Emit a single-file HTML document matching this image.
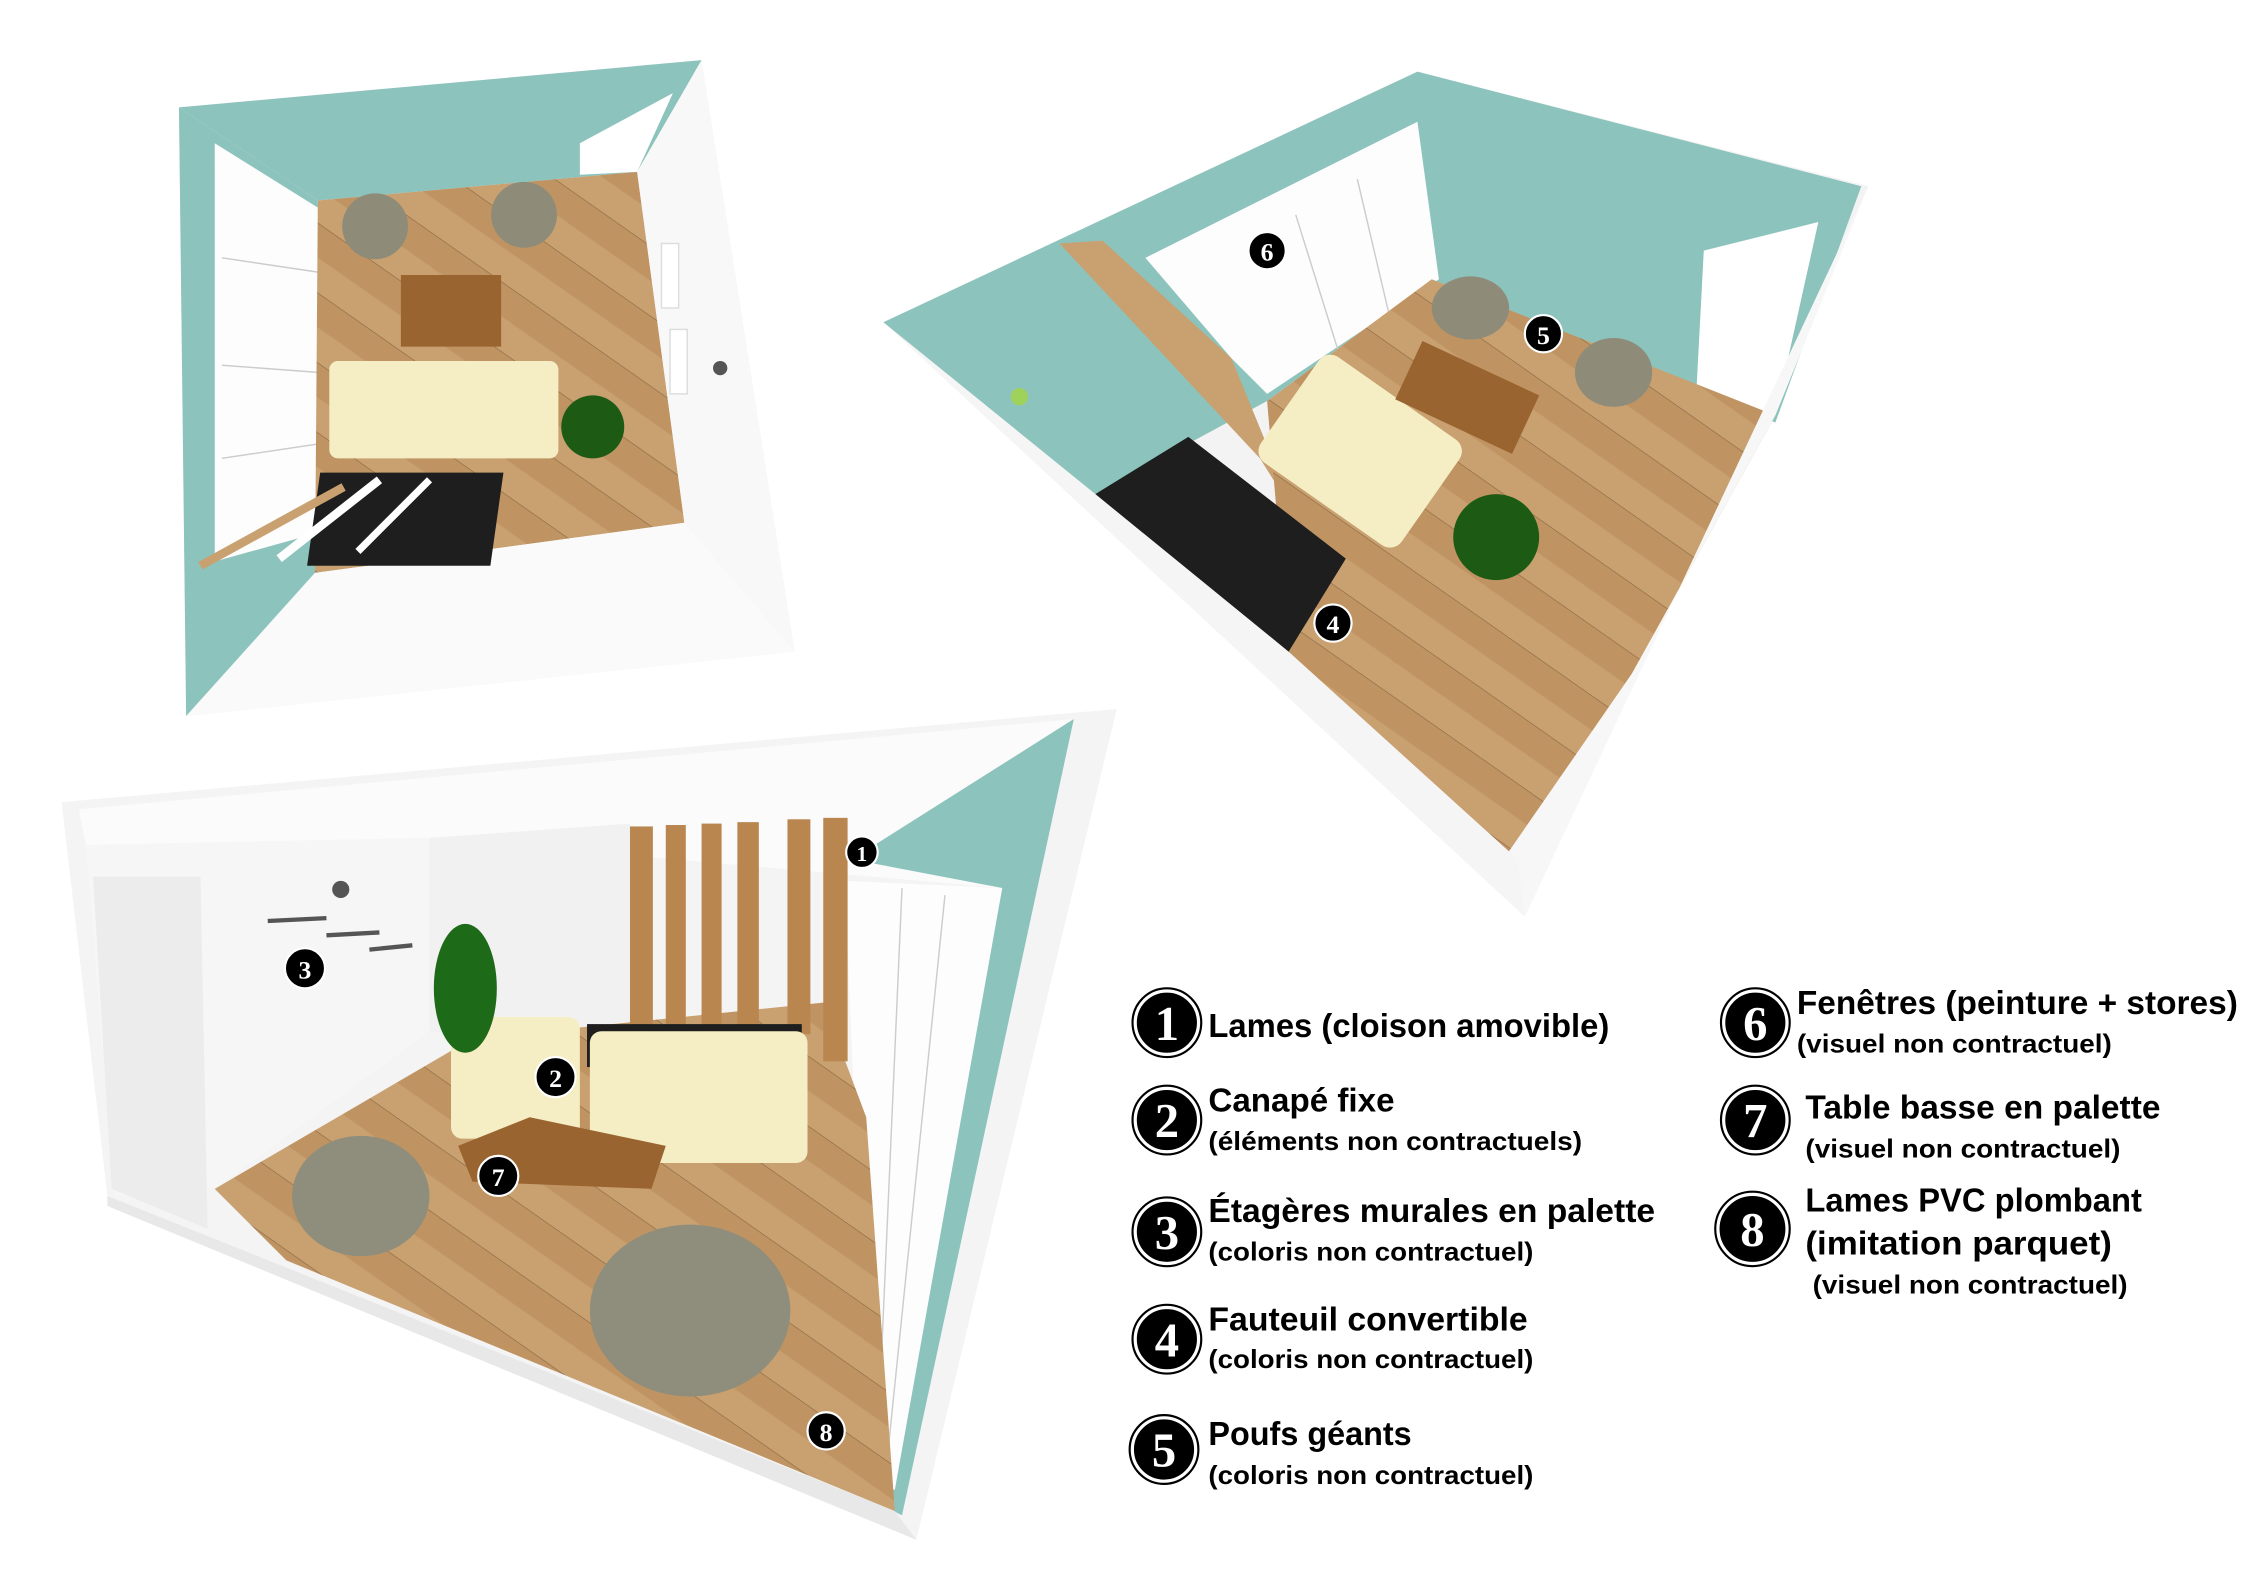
<!DOCTYPE html>
<html><head><meta charset="utf-8"><style>
html,body{margin:0;padding:0;background:#fff;}
svg{display:block;}
.t{font-family:"Liberation Sans Narrow","Liberation Sans",sans-serif;font-weight:bold;fill:#000;}
.n{font-family:"Liberation Serif",serif;font-weight:bold;fill:#fff;text-anchor:middle;}
</style></head><body>
<svg width="2245" height="1587" viewBox="0 0 1568 1108" preserveAspectRatio="none" xmlns="http://www.w3.org/2000/svg">
<defs>
<pattern id="wood" width="40" height="40" patternUnits="userSpaceOnUse" patternTransform="rotate(35)">
<rect width="40" height="40" fill="#c9a070"/><rect width="40" height="20" fill="#bf9462"/><line x1="0" y1="0" x2="40" y2="0" stroke="#8a6a45" stroke-width="0.8"/>
</pattern>
</defs>
<rect width="1568" height="1108" fill="#fff"/>

<!-- Top-left room -->
<polygon points="125,75 490,42 555,455 130,500" fill="#f2f2f2"/>
<polygon points="125,75 490,42 445,120 222,140" fill="#8dc3bd"/>
<polygon points="125,75 222,140 220,400 130,500" fill="#8dc3bd"/>
<polygon points="150,100 222,145 222,372 150,392" fill="#fdfdfd"/>
<line x1="155" y1="180" x2="222" y2="190" stroke="#ccc"/><line x1="155" y1="255" x2="222" y2="260" stroke="#ccc"/><line x1="155" y1="320" x2="222" y2="310" stroke="#ccc"/>
<polygon points="222,140 445,120 478,365 220,400" fill="url(#wood)"/>
<polygon points="445,120 490,42 555,455 478,365" fill="#f8f8f8"/>
<polygon points="220,400 478,365 555,455 130,500" fill="#fafafa"/>
<polygon points="405,100 470,65 445,120 405,122" fill="#fff"/>
<rect x="222" y="330" width="128" height="65" fill="#1e1e1e" transform="skewX(-8) translate(48,0)"/>
<line x1="140" y1="395" x2="240" y2="340" stroke="#c9a070" stroke-width="6"/>
<line x1="195" y1="390" x2="265" y2="335" stroke="#fff" stroke-width="6"/>
<line x1="250" y1="385" x2="300" y2="335" stroke="#fff" stroke-width="5"/>
<rect x="230" y="252" width="160" height="68" rx="6" fill="#f5eec4"/>
<rect x="280" y="192" width="70" height="50" fill="#9a6430"/>
<circle cx="262" cy="158" r="23" fill="#8e8b78"/><circle cx="366" cy="150" r="23" fill="#8e8b78"/>
<circle cx="414" cy="298" r="22" fill="#1d5a14"/>
<rect x="462" y="170" width="12" height="45" fill="#fff" stroke="#ddd"/><rect x="468" y="230" width="12" height="45" fill="#fff" stroke="#ddd"/>
<circle cx="503" cy="257" r="5" fill="#555"/>

<!-- Top-right room -->
<polygon points="617,225 990,50 1305,130 1065,640" fill="#f3f3f3"/>
<polygon points="617,225 990,50 1300,130 1240,295 1000,195 885,280 765,345" fill="#8dc3bd"/>
<polygon points="800,180 990,85 1005,195 885,275 860,250" fill="#fdfdfd"/>
<line x1="905" y1="150" x2="940" y2="262" stroke="#ccc"/><line x1="948" y1="125" x2="975" y2="240" stroke="#ccc"/>
<polygon points="740,170 770,168 860,250 905,360 880,320" fill="#c9a070"/>
<polygon points="1190,175 1270,155 1240,290 1185,270" fill="#fff"/>
<polygon points="885,280 1000,195 1240,290 1140,470 1060,600 900,455" fill="url(#wood)"/>
<polygon points="765,345 830,305 940,390 900,455" fill="#1e1e1e"/>
<polygon points="1240,290 1305,130 1065,640 1050,600 1140,470" fill="#f7f7f7"/>
<polygon points="617,225 765,345 900,455 1060,600 1065,640" fill="#f5f5f5"/>
<rect x="890" y="270" width="120" height="90" rx="10" fill="#f5eec4" transform="rotate(35 950 315)"/>
<rect x="980" y="255" width="90" height="45" fill="#9a6430" transform="rotate(25 1025 277)"/>
<ellipse cx="1027" cy="215" rx="27" ry="22" fill="#8e8b78"/><ellipse cx="1127" cy="260" rx="27" ry="24" fill="#8e8b78"/>
<circle cx="1045" cy="375" r="30" fill="#1d5a14"/>
<circle cx="712" cy="277" r="6" fill="#9fd25a"/>

<!-- Bottom-left room -->
<polygon points="43,560 780,495 640,1075 75,835" fill="#f4f4f4"/>
<polygon points="55,565 750,502 700,620 300,585 60,590" fill="#fbfbfb"/>
<polygon points="60,590 300,585 300,720 150,830 80,835" fill="#f6f6f6"/>
<polygon points="300,585 440,575 440,730 300,720" fill="#f1f1f1"/>
<polygon points="595,600 750,502 630,1058 615,1050 700,620" fill="#8dc3bd"/>
<polygon points="590,615 700,620 625,1040 608,1040" fill="#fdfdfd"/>
<line x1="630" y1="620" x2="612" y2="1030" stroke="#ccc"/><line x1="660" y1="625" x2="618" y2="1035" stroke="#ccc"/>
<polygon points="65,612 140,612 145,858 78,830" fill="#ececec"/>
<polygon points="150,830 330,725 575,700 605,780 625,1055 200,880" fill="url(#wood)"/>
<polygon points="75,835 625,1055 640,1075 75,842" fill="#e8e8e8"/>
<g fill="#b98650"><rect x="440" y="577" width="16" height="160"/><rect x="465" y="576" width="14" height="160"/><rect x="490" y="575" width="14" height="150"/><rect x="515" y="574" width="15" height="150"/><rect x="550" y="572" width="16" height="150"/><rect x="575" y="571" width="17" height="170"/></g>
<rect x="410" y="715" width="150" height="30" fill="#1e1e1e"/>
<rect x="315" y="710" width="90" height="85" rx="8" fill="#f5eec4"/>
<rect x="412" y="720" width="152" height="92" rx="8" fill="#f5eec4"/>
<polygon points="320,800 370,780 465,800 455,830 330,825" fill="#9a6430"/>
<ellipse cx="252" cy="835" rx="48" ry="42" fill="#8f8e7c"/>
<ellipse cx="482" cy="915" rx="70" ry="60" fill="#8f8e7c"/>
<ellipse cx="325" cy="690" rx="22" ry="45" fill="#1d6a18"/>
<circle cx="238" cy="621" r="6" fill="#555"/>
<g stroke="#555" stroke-width="3"><line x1="187" y1="643" x2="228" y2="641"/><line x1="228" y1="653" x2="265" y2="651"/><line x1="258" y1="663" x2="288" y2="660"/></g>

<!-- markers -->
<g stroke="#fff" stroke-width="1.5">
<circle cx="602" cy="595" r="11"/><circle cx="388" cy="752" r="14"/><circle cx="213" cy="676" r="14"/>
<circle cx="931" cy="435" r="13"/><circle cx="1078" cy="233" r="13"/><circle cx="885" cy="175" r="13"/>
<circle cx="348" cy="821" r="14"/><circle cx="577" cy="999" r="13"/>
</g>
<g class="n" font-size="18"><text x="602" y="601" font-size="15">1</text><text x="388" y="759">2</text><text x="213" y="683">3</text><text x="931" y="442">4</text><text x="1078" y="240">5</text><text x="885" y="182">6</text><text x="348" y="828">7</text><text x="577" y="1006">8</text></g>

<!-- legend -->
<g stroke="#fff" stroke-width="2" fill="#000">
<circle cx="815" cy="714" r="22"/><circle cx="815" cy="782" r="22"/><circle cx="815" cy="860" r="22"/><circle cx="815" cy="935" r="22"/><circle cx="813" cy="1012" r="22"/>
<circle cx="1226" cy="714" r="22"/><circle cx="1226" cy="782" r="22"/><circle cx="1224" cy="858" r="24"/>
</g>
<g fill="none" stroke="#000" stroke-width="1.5">
<circle cx="815" cy="714" r="24"/><circle cx="815" cy="782" r="24"/><circle cx="815" cy="860" r="24"/><circle cx="815" cy="935" r="24"/><circle cx="813" cy="1012" r="24"/>
<circle cx="1226" cy="714" r="24"/><circle cx="1226" cy="782" r="24"/><circle cx="1224" cy="858" r="26"/>
</g>
<g class="n" font-size="34"><text x="815" y="726">1</text><text x="815" y="794">2</text><text x="815" y="872">3</text><text x="815" y="947">4</text><text x="813" y="1024">5</text><text x="1226" y="726">6</text><text x="1226" y="794">7</text><text x="1224" y="870">8</text></g>

<g class="t" font-size="23">
<text x="844" y="724" textLength="280" lengthAdjust="spacingAndGlyphs">Lames (cloison amovible)</text>
<text x="844" y="776" textLength="130" lengthAdjust="spacingAndGlyphs">Canapé fixe</text>
<text x="844" y="853" textLength="312" lengthAdjust="spacingAndGlyphs">Étagères murales en palette</text>
<text x="844" y="929" textLength="223" lengthAdjust="spacingAndGlyphs">Fauteuil convertible</text>
<text x="844" y="1009" textLength="142" lengthAdjust="spacingAndGlyphs">Poufs géants</text>
<text x="1255" y="708" textLength="308" lengthAdjust="spacingAndGlyphs">Fenêtres (peinture + stores)</text>
<text x="1261" y="781" textLength="248" lengthAdjust="spacingAndGlyphs">Table basse en palette</text>
<text x="1261" y="846" textLength="235" lengthAdjust="spacingAndGlyphs">Lames PVC plombant</text>
<text x="1261" y="876" textLength="214" lengthAdjust="spacingAndGlyphs">(imitation parquet)</text>
</g>
<g class="t" font-size="18">
<text x="844" y="803" textLength="261" lengthAdjust="spacingAndGlyphs">(éléments non contractuels)</text>
<text x="844" y="880" textLength="227" lengthAdjust="spacingAndGlyphs">(coloris non contractuel)</text>
<text x="844" y="955" textLength="227" lengthAdjust="spacingAndGlyphs">(coloris non contractuel)</text>
<text x="844" y="1036" textLength="227" lengthAdjust="spacingAndGlyphs">(coloris non contractuel)</text>
<text x="1255" y="735" textLength="220" lengthAdjust="spacingAndGlyphs">(visuel non contractuel)</text>
<text x="1261" y="808" textLength="220" lengthAdjust="spacingAndGlyphs">(visuel non contractuel)</text>
<text x="1266" y="903" textLength="220" lengthAdjust="spacingAndGlyphs">(visuel non contractuel)</text>
</g>
</svg>
</body></html>
